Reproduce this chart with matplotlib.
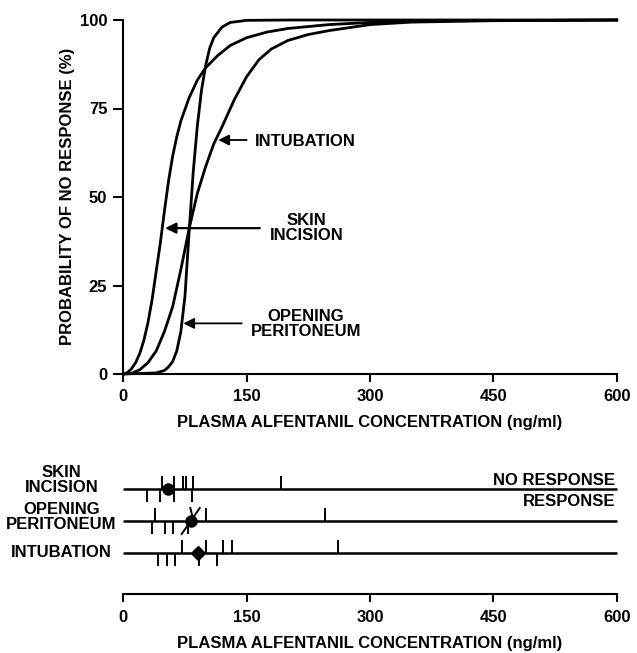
import numpy as np
import matplotlib
matplotlib.use("Agg")
import matplotlib.pyplot as plt

plt.rcParams['font.family'] = ['Liberation Sans', 'DejaVu Sans']
plt.rcParams['font.weight'] = 'bold'

# ---------------- data ----------------
conc_skin = [0, 5, 10, 15, 20, 25, 30, 35, 40, 45, 50, 55, 60, 65, 70, 80, 90, 100,
             115, 130, 150, 175, 200, 250, 300, 400, 600]
prob_skin = [0, 0.4, 1.5, 3.2, 5.8, 9.5, 14.5, 21, 29, 37, 46, 54.5, 61.5, 67, 71.5,
             78, 83, 86.5, 90, 92.8, 95, 96.6, 97.6, 98.7, 99.3, 99.8, 100]

conc_perit = [0, 40, 50, 55, 60, 65, 70, 75, 80, 85, 90, 95, 100, 105, 110, 120, 130,
              150, 200, 600]
prob_perit = [0, 0.3, 1, 2, 3.5, 6.5, 12, 22, 40, 57, 70, 80, 87, 92, 95, 98, 99.3,
              99.9, 100, 100]

conc_intub = [0, 10, 20, 30, 40, 50, 60, 70, 80, 90, 100, 110, 120, 135, 150, 165, 180,
              200, 225, 250, 300, 350, 450, 600]
prob_intub = [0, 0.2, 1.2, 3.2, 6.5, 12, 19, 29.5, 41, 51, 58.5, 65, 69.8, 77.5, 84,
              88.8, 91.8, 94.2, 95.9, 97, 98.7, 99.4, 99.8, 100]

x_ticks = [0, 150, 300, 450, 600]
y_ticks = [0, 25, 50, 75, 100]

row_labels = ['SKIN\nINCISION', 'OPENING\nPERITONEUM', 'INTUBATION']
# individual patient concentrations: no response (up), response (down)
skin_noresp = [47, 62, 72.5, 76, 85, 192]
skin_resp = [29, 45, 62, 83.5]
skin_c50 = 54
perit_noresp = [38.5, 100.9, 244.7]
perit_resp = [35.2, 50.3, 60.4, 79]
perit_noresp_slanted = [(85.5, 81.5), (82, 93)]   # (at line, at tip)
perit_resp_slanted = [(82, 71)]
perit_c50 = 82
intub_noresp = [71.7, 100.1, 121.5, 131.7, 261]
intub_resp = [42.5, 53.5, 62.8, 92, 114.5]
intub_c50 = 91

# ---------------- figure ----------------
W, H = 637, 653
fig = plt.figure(figsize=(W / 100, H / 100), dpi=100)
FS = 12
X0, X1 = 123.3, 616.7

ax = fig.add_axes([X0 / W, 1 - 374 / H, (X1 - X0) / W, (374 - 20) / H])
ax.set_xlim(0, 600)
ax.set_ylim(0, 100)
for c, p in [(conc_skin, prob_skin), (conc_perit, prob_perit), (conc_intub, prob_intub)]:
    ax.plot(c, p, color='black', lw=2.0, clip_on=False, solid_joinstyle='round')
for s in ['top', 'right']:
    ax.spines[s].set_visible(False)
for s in ['left', 'bottom']:
    ax.spines[s].set_linewidth(1.5)
ax.set_xticks(x_ticks)
ax.set_yticks(y_ticks)
ax.tick_params(axis='y', direction='out', length=7.2, width=1.5, pad=4.3, labelsize=FS)
ax.tick_params(axis='x', direction='out', length=5.5, width=1.5, pad=5, labelsize=FS)

arrow_kw = dict(arrowstyle='-|>', color='black', lw=1.3, mutation_scale=16,
                shrinkA=0, shrinkB=0)
ax.annotate('', xy=(115.5, 66.1), xytext=(150, 66.1), arrowprops=arrow_kw)
ax.text(160, 65.8, 'INTUBATION', ha='left', va='center', fontsize=FS)
ax.annotate('', xy=(50.8, 41.2), xytext=(166, 41.2),
            arrowprops=dict(arrow_kw, lw=1.6))
ax.text(223, 41.2, 'SKIN\nINCISION', ha='center', va='center', fontsize=FS,
        linespacing=1.0, multialignment='center')
ax.annotate('', xy=(73, 14.3), xytext=(144, 14.3), arrowprops=arrow_kw)
ax.text(222, 14.1, 'OPENING\nPERITONEUM', ha='center', va='center', fontsize=FS,
        linespacing=1.05, multialignment='center')

fig.text(67.5 / W, 1 - 196.5 / H, 'PROBABILITY OF NO RESPONSE (%)', rotation=90,
         ha='center', va='center', fontsize=FS)
fig.text((X0 + X1) / 2 / W, 1 - 427 / H, 'PLASMA ALFENTANIL CONCENTRATION (ng/ml)',
         ha='center', va='baseline', fontsize=FS)

# ---------------- lower panel ----------------
ax2 = fig.add_axes([X0 / W, 1 - 594 / H, (X1 - X0) / W, (594 - 460) / H])
ax2.set_xlim(0, 600)
ax2.set_ylim(-0.303, 3.924)
for s in ['top', 'right', 'left']:
    ax2.spines[s].set_visible(False)
ax2.spines['bottom'].set_linewidth(1.5)
ax2.set_yticks([])
ax2.set_xticks(x_ticks)
ax2.tick_params(axis='x', direction='out', length=5.8, width=1.5, pad=5.5, labelsize=FS)

rows = np.arange(len(row_labels), 0, -1)  # 3, 2, 1
tl = 0.41
ax2.hlines(rows, 0, 600, color='black', lw=1.8, clip_on=False)
groups = [(skin_noresp, skin_resp, skin_c50, 'o'),
          (perit_noresp, perit_resp, perit_c50, 'o'),
          (intub_noresp, intub_resp, intub_c50, 'D')]
for r, (up, dn, c50, mk) in zip(rows, groups):
    ax2.vlines(up, r, r + tl, color='black', lw=1.4)
    ax2.vlines(dn, r - tl, r, color='black', lw=1.4)
    ax2.plot([c50], [r], marker=mk, color='black', ms=8 if mk == 'o' else 7.5,
             ls='none')
r2 = rows[1]
for xb, xt in perit_noresp_slanted:
    ax2.plot([xb, xt], [r2, r2 + tl], color='black', lw=1.4)
for xb, xt in perit_resp_slanted:
    ax2.plot([xb, xt], [r2, r2 - tl], color='black', lw=1.4)

label_dy = [0.29, 0.13, 0.0]
for r, lab, dy in zip(rows, row_labels, label_dy):
    ax2.text(-75, r + dy, lab, ha='center', va='center', fontsize=FS,
             linespacing=0.97, multialignment='center', clip_on=False)
ax2.text(598, rows[0] + 0.126, 'NO RESPONSE', ha='right', va='baseline', fontsize=FS)
ax2.text(598, rows[0] - 0.52, 'RESPONSE', ha='right', va='baseline', fontsize=FS)

fig.text((X0 + X1) / 2 / W, 1 - 648 / H, 'PLASMA ALFENTANIL CONCENTRATION (ng/ml)',
         ha='center', va='baseline', fontsize=FS)

fig.savefig('out.png', dpi=100)
